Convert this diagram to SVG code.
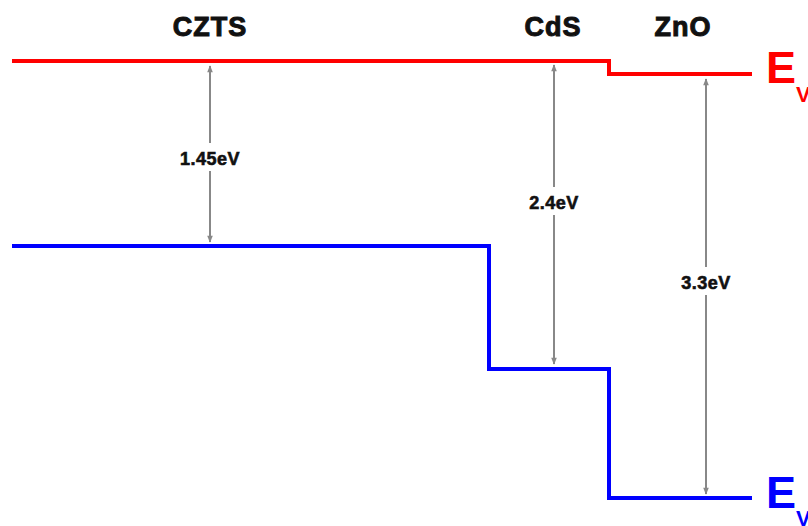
<svg xmlns="http://www.w3.org/2000/svg" width="808" height="526" viewBox="0 0 808 526">
<defs>
<marker id="ah" viewBox="0 0 10 10" refX="9" refY="5" markerWidth="8" markerHeight="7" orient="auto-start-reverse" markerUnits="userSpaceOnUse">
<path d="M0,1 L10,5 L0,9 z" fill="#888"/>
</marker>
<style>
.t{font-family:"Liberation Sans",Arial,sans-serif;font-weight:bold;fill:#111;stroke:#111;stroke-width:1}
.h{font-size:27px;text-anchor:middle;letter-spacing:1px}
.g{font-size:18px;text-anchor:middle;letter-spacing:0.5px;stroke-width:0.6}
.arr{stroke:#888;stroke-width:2;fill:none;marker-start:url(#ah);marker-end:url(#ah)}
.E{font-family:"Liberation Sans",Arial,sans-serif;font-weight:bold}
</style>
</defs>
<rect width="808" height="526" fill="#fff"/>
<g id="labels">
<text class="t h" x="210" y="36">CZTS</text>
<text class="t h" x="553" y="36">CdS</text>
<text class="t h" x="683" y="36">ZnO</text>
</g>
<g id="conduction-band">
<polyline points="12,61 609,61 609,74 752,74" fill="none" stroke="#f00" stroke-width="4"/>
<text class="E" x="766" y="83" font-size="45" fill="#f00">E</text>
<text class="E" x="796" y="102" font-size="22" fill="#f00">V</text>
</g>
<g id="valence-band">
<polyline points="12,246 489,246 489,369 609,369 609,498 752,498" fill="none" stroke="#00f" stroke-width="4"/>
<text class="E" x="766" y="508" font-size="45" fill="#00f">E</text>
<text class="E" x="796" y="526" font-size="22" fill="#00f">V</text>
</g>
<g id="connectors">
<line class="arr" x1="210" y1="66" x2="210" y2="242"/>
<line class="arr" x1="554" y1="65" x2="554" y2="364"/>
<line class="arr" x1="706" y1="79" x2="706" y2="494"/>
</g>
<g id="gaps">
<rect x="172" y="143" width="76" height="28" fill="#fff"/>
<text class="t g" x="210" y="165">1.45eV</text>
<rect x="520" y="187" width="68" height="28" fill="#fff"/>
<text class="t g" x="554" y="209">2.4eV</text>
<rect x="672" y="267" width="68" height="28" fill="#fff"/>
<text class="t g" x="706" y="289">3.3eV</text>
</g>
</svg>
